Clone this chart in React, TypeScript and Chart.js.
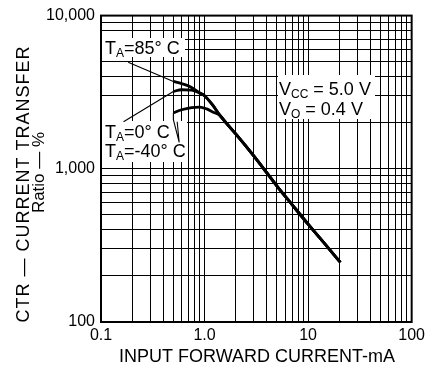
import React, { useEffect, useRef } from 'react';
import { Chart, registerables } from 'chart.js';

Chart.register(...registerables);

const FONT = "'Liberation Sans', Arial, Helvetica, sans-serif";

// Axis ranges and labelled ticks
const X_MIN = 0.1;
const X_MAX = 100;
const Y_MIN = 100;
const Y_MAX = 10000;
const X_MAJOR = [0.1, 1, 10, 100];
const X_MAJOR_LABELS = ['0.1', '1.0', '10', '100'];
const Y_MAJOR = [100, 1000, 10000];
const Y_MAJOR_LABELS = ['100', '1,000', '10,000'];
const GRID_MULTIPLIERS = [1, 2, 3, 4, 5, 6, 7, 8, 9];

// Shared high-current part of the curves (IF in mA, CTR in %)
const commonIF = [1.4, 1.6, 2, 3, 4, 5, 7, 10, 15, 20.5];
const commonCTR = [2240, 2010, 1690, 1210, 940, 772, 584, 435, 315, 245];

// Low-current part per temperature
const t85IF = [0.5, 0.6, 0.72, 0.9, 1.0, 1.2];
const t85CTR = [3720, 3600, 3450, 3130, 3000, 2600];
const t0IF = [0.5, 0.6, 0.75, 0.9, 1.0, 1.2];
const t0CTR = [3200, 3280, 3260, 3120, 3000, 2600];
const tm40IF = [0.5, 0.6, 0.75, 0.9, 1.05, 1.2];
const tm40CTR = [2320, 2430, 2510, 2530, 2460, 2350];

// Leader lines from the labels to the curves
const lead85IF = [0.183, 0.5];
const lead85CTR = [4955, 3720];
const lead0IF = [0.165, 0.5];
const lead0CTR = [2028, 3200];
const leadM40IF = [0.5, 0.5, 0.569, 0.544];
const leadM40CTR = [2320, 2094, 1486, 2030];

type Part = [string, boolean];
const LABEL_85: Part[] = [['T', false], ['A', true], ['=85° C', false]];
const LABEL_0: Part[] = [['T', false], ['A', true], ['=0° C', false]];
const LABEL_M40: Part[] = [['T', false], ['A', true], ['=-40° C', false]];
const LABEL_VCC: Part[] = [['V', false], ['CC', true], [' = 5.0 V', false]];
const LABEL_VO: Part[] = [['V', false], ['O', true], [' = 0.4 V', false]];
const X_TITLE = 'INPUT FORWARD CURRENT-mA';
const Y_TITLE_1 = 'CTR — CURRENT TRANSFER';
const Y_TITLE_2 = 'Ratio — %';

function gridValues(min: number, max: number): number[] {
  const out: number[] = [];
  for (let d = min; d < max * 0.999; d *= 10) {
    for (const m of GRID_MULTIPLIERS) out.push(parseFloat((m * d).toPrecision(6)));
  }
  out.push(max);
  return out;
}

function labelFor(v: number, majors: number[], labels: string[]): string {
  for (let i = 0; i < majors.length; i++) {
    if (Math.abs(Math.log10(v) - Math.log10(majors[i])) < 1e-6) return labels[i];
  }
  return '';
}

function pts(xs: number[], ys: number[]) {
  return xs.map((x, i) => ({ x, y: ys[i] }));
}

function drawRich(ctx: CanvasRenderingContext2D, x: number, y: number, parts: Part[]) {
  let cx = x;
  ctx.textAlign = 'left';
  ctx.textBaseline = 'alphabetic';
  for (const [t, sub] of parts) {
    ctx.font = sub ? `12px ${FONT}` : `18px ${FONT}`;
    ctx.fillText(t, cx, sub ? y + 3 : y);
    cx += ctx.measureText(t).width;
  }
}

const overlay = {
  id: 'overlay',
  beforeDatasetsDraw(chart: any) {
    const ctx: CanvasRenderingContext2D = chart.ctx;
    ctx.save();
    ctx.fillStyle = '#fff';
    ctx.fillRect(102, 38, 83, 19);
    ctx.fillRect(102, 121, 85, 41);
    ctx.fillRect(278, 75, 97, 44);
    ctx.fillStyle = '#000';
    drawRich(ctx, 105, 54, LABEL_85);
    drawRich(ctx, 105, 138, LABEL_0);
    drawRich(ctx, 105, 157, LABEL_M40);
    drawRich(ctx, 279, 95, LABEL_VCC);
    drawRich(ctx, 279, 115, LABEL_VO);
    ctx.restore();
  },
  afterDraw(chart: any) {
    const ctx: CanvasRenderingContext2D = chart.ctx;
    const a = chart.chartArea;
    ctx.save();
    ctx.strokeStyle = '#000';
    ctx.lineWidth = 2;
    ctx.strokeRect(a.left, a.top, a.right - a.left, a.bottom - a.top);

    ctx.fillStyle = '#000';
    ctx.textBaseline = 'alphabetic';
    // x title
    ctx.font = `18px ${FONT}`;
    ctx.textAlign = 'center';
    ctx.fillText(X_TITLE, 257, 361.5);

    // y title, line 1 (slightly letter-spaced to span the reference length)
    ctx.translate(29, 184.5);
    ctx.rotate(-Math.PI / 2);
    ctx.font = `18px ${FONT}`;
    ctx.textAlign = 'left';
    const anyCtx = ctx as any;
    anyCtx.letterSpacing = '0px';
    const w0 = ctx.measureText(Y_TITLE_1).width;
    const target = 276;
    const ls = Math.max(0, (target - w0) / (Y_TITLE_1.length - 1));
    anyCtx.letterSpacing = `${ls}px`;
    ctx.fillText(Y_TITLE_1, -target / 2, 0);
    anyCtx.letterSpacing = '0px';
    ctx.restore();

    ctx.save();
    ctx.fillStyle = '#000';
    ctx.translate(44, 172.5);
    ctx.rotate(-Math.PI / 2);
    ctx.font = `17px ${FONT}`;
    ctx.textAlign = 'center';
    ctx.textBaseline = 'alphabetic';
    ctx.fillText(Y_TITLE_2, 0, 0);
    ctx.restore();
  },
};

export default function App() {
  const ref = useRef<HTMLCanvasElement | null>(null);

  useEffect(() => {
    if (!ref.current) return;
    const curve = (data: any) => ({
      data,
      borderColor: '#000',
      borderWidth: 2.8,
      pointRadius: 0,
      fill: false,
      cubicInterpolationMode: 'monotone' as const,
    });
    const leader = (data: any) => ({
      data,
      borderColor: '#000',
      borderWidth: 1.1,
      pointRadius: 0,
      fill: false,
      tension: 0,
    });
    const chart = new Chart(ref.current, {
      type: 'line',
      data: {
        datasets: [
          curve(pts([...t85IF, ...commonIF], [...t85CTR, ...commonCTR])),
          curve(pts([...t0IF, ...commonIF], [...t0CTR, ...commonCTR])),
          curve(pts([...tm40IF, ...commonIF], [...tm40CTR, ...commonCTR])),
          leader(pts(lead85IF, lead85CTR)),
          leader(pts(lead0IF, lead0CTR)),
          leader(pts(leadM40IF, leadM40CTR)),
        ] as any,
      },
      options: {
        animation: false,
        responsive: false,
        events: [],
        layout: { padding: { left: 0, right: 16, top: 12, bottom: 0 } },
        plugins: {
          legend: { display: false },
          tooltip: { enabled: false },
          title: { display: false },
        },
        scales: {
          x: {
            type: 'logarithmic',
            min: X_MIN,
            max: X_MAX,
            position: 'bottom',
            afterBuildTicks: (s: any) => {
              s.ticks = gridValues(X_MIN, X_MAX).map((v) => ({ value: v }));
            },
            afterFit: (s: any) => {
              s.height = 46;
            },
            grid: { color: '#000', lineWidth: 1, drawTicks: false },
            border: { display: false },
            ticks: {
              autoSkip: false,
              maxRotation: 0,
              padding: 4,
              color: '#000',
              font: { family: FONT, size: 16 },
              callback: (v: any) => labelFor(Number(v), X_MAJOR, X_MAJOR_LABELS),
            },
          },
          y: {
            type: 'logarithmic',
            min: Y_MIN,
            max: Y_MAX,
            position: 'left',
            afterBuildTicks: (s: any) => {
              s.ticks = gridValues(Y_MIN, Y_MAX).map((v) => ({ value: v }));
            },
            afterFit: (s: any) => {
              s.width = 101;
            },
            grid: { color: '#000', lineWidth: 1, drawTicks: false },
            border: { display: false },
            ticks: {
              autoSkip: false,
              padding: 6,
              color: '#000',
              font: { family: FONT, size: 16 },
              callback: (v: any) => labelFor(Number(v), Y_MAJOR, Y_MAJOR_LABELS),
            },
          },
        },
      } as any,
      plugins: [overlay],
    });
    return () => chart.destroy();
  }, []);

  return (
    <div style={{ position: 'fixed', left: 0, top: 0, width: 429, height: 368, background: '#fff' }}>
      <canvas ref={ref} width={429} height={368} style={{ display: 'block' }} />
    </div>
  );
}
